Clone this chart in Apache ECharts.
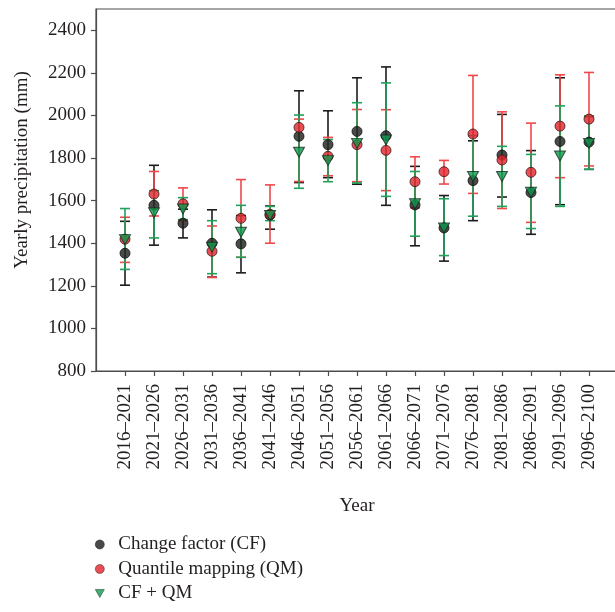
<!DOCTYPE html>
<html>
<head>
<meta charset="utf-8">
<script src="https://cdn.jsdelivr.net/npm/echarts@6/dist/echarts.min.js"></script>
<style>
  html, body { margin: 0; padding: 0; background: #fff; }
  #chart { width: 615px; height: 612px; }
</style>
</head>
<body>
<div id="chart"></div>
<script>
// Periods (5-year windows)
const periods = ['2016–2021', '2021–2026', '2026–2031', '2031–2036', '2036–2041', '2041–2046',
  '2046–2051', '2051–2056', '2056–2061', '2061–2066', '2066–2071', '2071–2076',
  '2076–2081', '2081–2086', '2086–2091', '2091–2096', '2096–2100'];

// Change factor (CF): mean, lower, upper (mm)
const cfMean = [1353, 1578, 1494, 1400, 1397, 1532, 1902, 1863, 1925, 1905, 1580, 1472, 1694, 1814, 1638, 1878, 1875];
const cfLow  = [1203, 1391, 1425, 1241, 1261, 1466, 1685, 1708, 1677, 1578, 1388, 1316, 1506, 1617, 1442, 1581, 1747];
const cfHigh = [1503, 1766, 1560, 1557, 1530, 1575, 2116, 2022, 2177, 2228, 1761, 1624, 1881, 2005, 1835, 2177, 1995];

// Quantile mapping (QM)
const qmMean = [1419, 1631, 1585, 1362, 1517, 1536, 1944, 1808, 1863, 1836, 1689, 1736, 1913, 1791, 1733, 1950, 1983];
const qmLow  = [1310, 1528, 1506, 1239, 1334, 1400, 1690, 1717, 1689, 1647, 1566, 1678, 1634, 1563, 1498, 1708, 1763];
const qmHigh = [1522, 1737, 1660, 1481, 1699, 1674, 1983, 1897, 2028, 2027, 1806, 1789, 2188, 2017, 1964, 2191, 2202];

// CF + QM
const cqMean = [1417, 1543, 1561, 1381, 1452, 1530, 1827, 1788, 1869, 1885, 1585, 1472, 1713, 1713, 1639, 1810, 1869];
const cqLow  = [1277, 1425, 1511, 1257, 1334, 1506, 1658, 1689, 1683, 1620, 1433, 1342, 1527, 1573, 1469, 1573, 1747];
const cqHigh = [1563, 1647, 1614, 1506, 1578, 1573, 2002, 1887, 2060, 2153, 1737, 1609, 1905, 1855, 1817, 2045, 1998];

// Y-axis tick values
const yTicks = [800, 1000, 1200, 1400, 1600, 1800, 2000, 2200, 2400];

// Category axis with an empty slot at each end
const xCats = [''].concat(periods, ['']);

const FONT = '"Liberation Serif", "DejaVu Serif", serif';
const BLACK = '#1e1b1c', RED = '#e4202a', GREEN = '#0e9a4e';
const RED_BAR = '#f0474a', GREEN_BAR = '#1fa25a';
const DOWN_TRIANGLE = 'path://M0,0 L10,0 L5,9 Z';

function barData(low, high) {
  return low.map((l, i) => [i + 1, l, high[i]]);
}
function pointData(mean) {
  return mean.map((m, i) => [i + 1, m]);
}

function errorBar(name, color, low, high) {
  return {
    name: name,
    type: 'custom',
    data: barData(low, high),
    encode: { x: 0, y: [1, 2] },
    silent: true,
    z: 2,
    renderItem: function (params, api) {
      const x = api.value(0);
      const lo = api.coord([x, api.value(1)]);
      const hi = api.coord([x, api.value(2)]);
      const half = 5;
      const style = { stroke: color, lineWidth: 1.6, fill: null };
      return {
        type: 'group',
        children: [
          { type: 'line', shape: { x1: lo[0], y1: lo[1], x2: hi[0], y2: hi[1] }, style: style },
          { type: 'line', shape: { x1: hi[0] - half, y1: hi[1], x2: hi[0] + half, y2: hi[1] }, style: style },
          { type: 'line', shape: { x1: lo[0] - half, y1: lo[1], x2: lo[0] + half, y2: lo[1] }, style: style }
        ]
      };
    }
  };
}

const chart = echarts.init(document.getElementById('chart'), null, { renderer: 'canvas' });

chart.setOption({
  animation: false,
  backgroundColor: '#fff',
  grid: {
    left: 96, width: 522, top: 9, bottom: 241,
    outerBoundsMode: 'none',
    containLabel: false,
    show: true, borderColor: '#4d4d4d', borderWidth: 1.2, backgroundColor: 'transparent'
  },
  xAxis: {
    type: 'category',
    data: xCats,
    boundaryGap: false,
    name: 'Year',
    nameLocation: 'middle',
    nameGap: 126,
    nameTextStyle: { fontFamily: FONT, fontSize: 19, color: '#231f20' },
    axisLine: { lineStyle: { color: '#4d4d4d', width: 1.2 } },
    axisTick: {
      length: 5,
      lineStyle: { color: '#4d4d4d', width: 1.2 },
      interval: function (index, value) { return value !== ''; }
    },
    axisLabel: {
      rotate: 90,
      interval: 0,
      margin: 13,
      fontFamily: FONT, fontSize: 19, color: '#231f20'
    },
    splitLine: { show: false }
  },
  yAxis: {
    type: 'value',
    min: 800,
    max: 2500,
    interval: 200,
    axisLine: { show: true, lineStyle: { color: '#4d4d4d', width: 1.2 } },
    axisTick: { show: true, length: 5, lineStyle: { color: '#4d4d4d', width: 1.2 }, customValues: yTicks },
    axisLabel: {
      margin: 10, fontFamily: FONT, fontSize: 19, color: '#231f20', customValues: yTicks,
      formatter: function (v) { return String(v); }
    },
    splitLine: { show: false }
  },
  legend: {
    orient: 'vertical',
    left: 95,
    top: 535,
    padding: 0,
    height: 90,
    itemWidth: 9,
    itemHeight: 9,
    itemGap: 5.5,
    data: [
      { name: 'Change factor (CF)', icon: 'circle' },
      { name: 'Quantile mapping (QM)', icon: 'circle' },
      { name: 'CF + QM', icon: DOWN_TRIANGLE }
    ],
    itemStyle: { borderWidth: 0.6 },
    textStyle: { fontFamily: FONT, fontSize: 19, color: '#231f20', lineHeight: 19, padding: [0, 0, 0, 9] },
    selectedMode: false
  },
  graphic: [{
    type: 'text',
    x: 22, y: 170,
    rotation: Math.PI / 2,
    style: {
      text: 'Yearly precipitation (mm)',
      font: '19px ' + FONT,
      fill: '#231f20',
      align: 'center',
      verticalAlign: 'middle'
    }
  }],
  series: [
    errorBar('cf-range', BLACK, cfLow, cfHigh),
    errorBar('qm-range', RED_BAR, qmLow, qmHigh),
    errorBar('cq-range', GREEN_BAR, cqLow, cqHigh),
    {
      name: 'Change factor (CF)',
      type: 'scatter',
      data: pointData(cfMean),
      symbol: 'circle',
      symbolSize: 10,
      z: 3,
      itemStyle: { color: BLACK, borderColor: '#111', borderWidth: 1 }
    },
    {
      name: 'Quantile mapping (QM)',
      type: 'scatter',
      data: pointData(qmMean),
      symbol: 'circle',
      symbolSize: 10,
      z: 4,
      itemStyle: { color: RED, borderColor: '#3a1a1a', borderWidth: 1 }
    },
    {
      name: 'CF + QM',
      type: 'scatter',
      data: pointData(cqMean),
      symbol: 'triangle',
      symbolRotate: 180,
      symbolSize: [11, 10],
      z: 5,
      itemStyle: { color: GREEN, borderColor: '#1a2a1f', borderWidth: 1 }
    }
  ]
});
</script>
</body>
</html>
